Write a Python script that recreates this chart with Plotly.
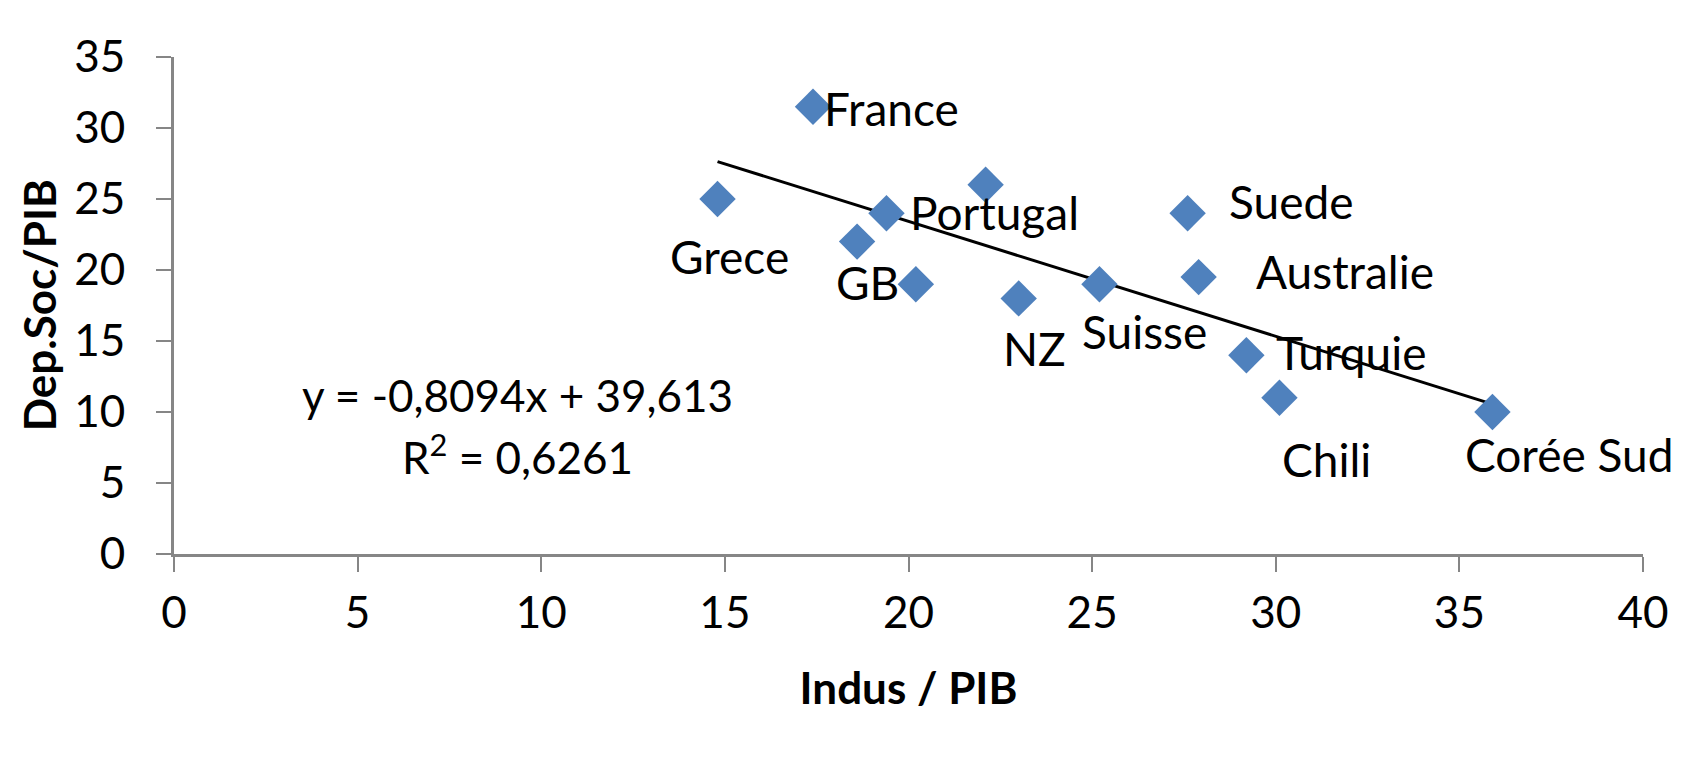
import plotly.graph_objects as go

# Data
countries = ["France", "Grece", "Portugal", "GB", "", "", "NZ", "Suisse",
             "Suede", "Australie", "Turquie", "Chili", "Corée Sud"]
indus_pib = [17.4, 14.8, 19.4, 18.6, 20.2, 22.1, 23.0, 25.2, 27.6, 27.9, 29.2, 30.1, 35.9]
depsoc_pib = [31.5, 25.0, 24.0, 22.0, 19.0, 26.0, 18.0, 19.0, 24.0, 19.5, 14.0, 11.0, 10.0]
slope = -0.8094
intercept = 39.613
r2 = 0.6261
x_ticks = [0, 5, 10, 15, 20, 25, 30, 35, 40]
y_ticks = [0, 5, 10, 15, 20, 25, 30, 35]

# label pixel offsets (style)
label_dx = [78, 12, 108, 10, 0, 0, 16, 45, 103, 146, 105, 47, 77]
label_dy = [-2, -57, 1, -41, 0, 0, -50, -47, 12, 6, 3, -62, -42]

FONT = "Lato"
BLUE = "#4F81BD"
AXIS = "#868686"
PAGE_OFFSET = 8  # default body margin of the html page

fig = go.Figure()

xmin, xmax = min(indus_pib), max(indus_pib)
fig.add_trace(go.Scatter(
    x=[xmin, xmax], y=[slope * xmin + intercept, slope * xmax + intercept],
    mode="lines", line=dict(color="black", width=3), hoverinfo="skip", showlegend=False))

fig.add_trace(go.Scatter(
    x=indus_pib, y=depsoc_pib, mode="markers",
    marker=dict(symbol="diamond", size=28, color=BLUE, line=dict(width=0)),
    showlegend=False))

for c, x, y, dx, dy in zip(countries, indus_pib, depsoc_pib, label_dx, label_dy):
    if not c:
        continue
    fig.add_annotation(x=x, y=y, text=c, showarrow=False, xshift=dx, yshift=dy,
                       font=dict(family=FONT, size=46, color="black"))

fig.add_annotation(xref="paper", yref="paper", x=0.234, y=0.32,
                   xanchor="center", yanchor="middle",
                   text=f"y = {slope:.4f}x + {intercept:.3f}".replace(".", ","),
                   showarrow=False, font=dict(family=FONT, size=44, color="black"))
fig.add_annotation(xref="paper", yref="paper", x=0.234, y=0.20,
                   xanchor="center", yanchor="middle",
                   text=f"R<sup>2</sup> = {r2:.4f}".replace(".", ","),
                   showarrow=False, font=dict(family=FONT, size=44, color="black"))

# y axis title as rotated annotation
fig.add_annotation(xref="paper", yref="paper", x=-0.092, y=0.5,
                   xanchor="center", yanchor="middle", textangle=-90,
                   text="<b>Dep.Soc/PIB</b>", showarrow=False,
                   font=dict(family=FONT, size=44, color="black"))

fig.update_layout(
    width=1704, height=765,
    margin=dict(l=174 - PAGE_OFFSET, r=61 + PAGE_OFFSET, t=57 - PAGE_OFFSET,
                b=211 + PAGE_OFFSET),
    paper_bgcolor="white", plot_bgcolor="white",
    font=dict(family=FONT, color="black"),
    xaxis=dict(range=[0, 40], tickvals=x_ticks, showgrid=False, zeroline=False,
               showline=True, linecolor=AXIS, linewidth=3,
               ticks="outside", ticklen=15, tickwidth=2, tickcolor=AXIS,
               tickfont=dict(family=FONT, size=44), ticklabelstandoff=3,
               automargin=False,
               title=dict(text="<b>Indus / PIB</b>", font=dict(family=FONT, size=44), standoff=38)),
    yaxis=dict(range=[0, 35], tickvals=y_ticks, showgrid=False, zeroline=False,
               showline=True, linecolor=AXIS, linewidth=3,
               ticks="outside", ticklen=15, tickwidth=2, tickcolor=AXIS,
               tickfont=dict(family=FONT, size=44), ticklabelstandoff=22,
               automargin=False),
)

fig.write_html("out.html")
